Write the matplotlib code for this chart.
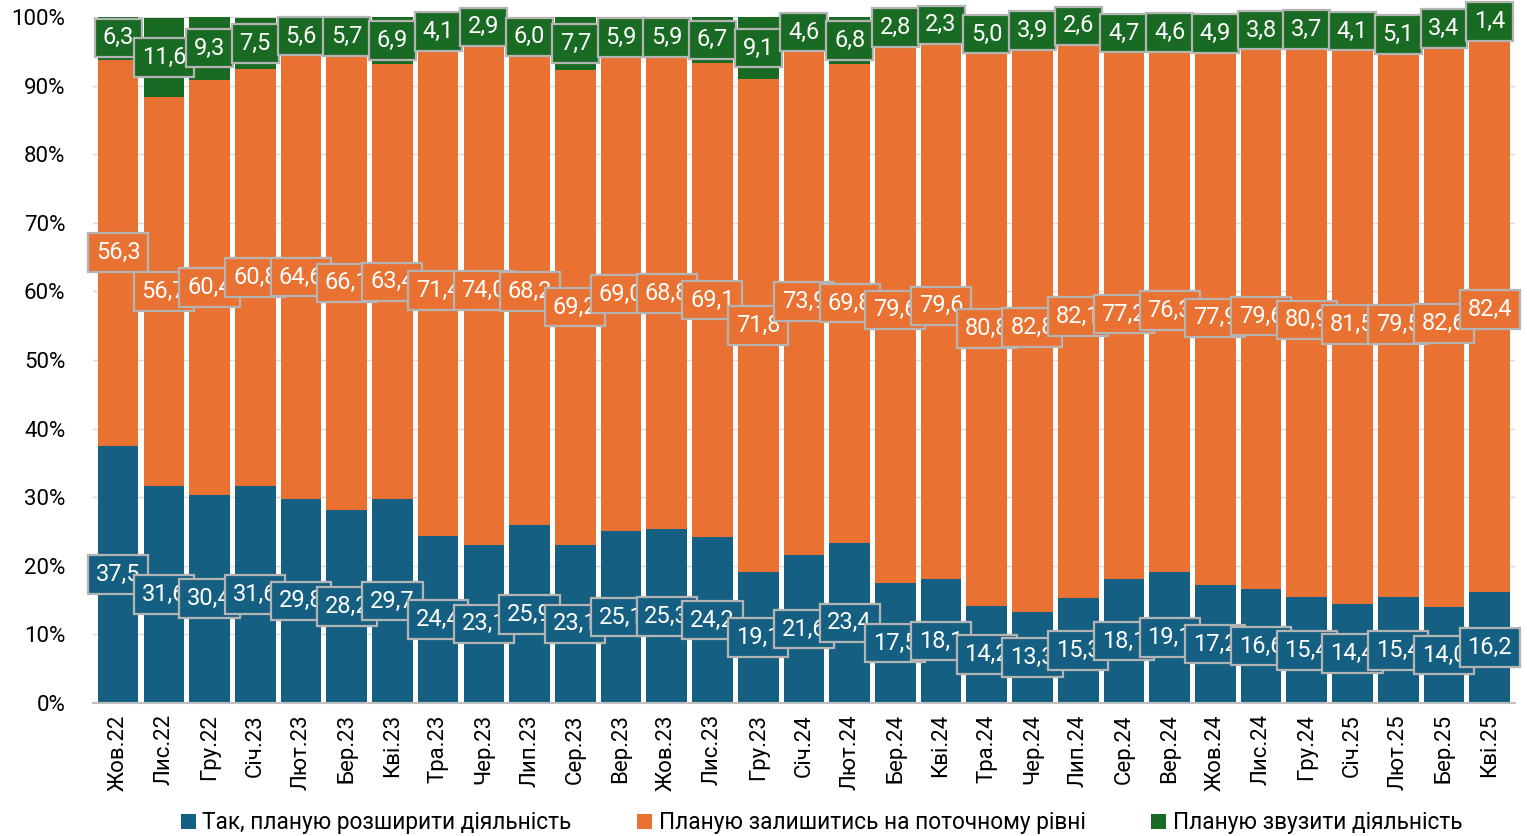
import matplotlib
matplotlib.use("Agg")
import matplotlib.pyplot as plt
from matplotlib import font_manager
import numpy as np

categories = ["Жов.22", "Лис.22", "Гру.22", "Січ.23", "Лют.23", "Бер.23", "Кві.23", "Тра.23",
              "Чер.23", "Лип.23", "Сер.23", "Вер.23", "Жов.23", "Лис.23", "Гру.23", "Січ.24",
              "Лют.24", "Бер.24", "Кві.24", "Тра.24", "Чер.24", "Лип.24", "Сер.24", "Вер.24",
              "Жов.24", "Лис.24", "Гру.24", "Січ.25", "Лют.25", "Бер.25", "Кві.25"]

expand = [37.5, 31.6, 30.4, 31.6, 29.8, 28.2, 29.7, 24.4, 23.1, 25.9, 23.1, 25.1, 25.3, 24.2, 19.1, 21.6,
          23.4, 17.5, 18.1, 14.2, 13.3, 15.3, 18.1, 19.1, 17.2, 16.6, 15.4, 14.4, 15.4, 14.0, 16.2]
stay = [56.3, 56.7, 60.4, 60.8, 64.6, 66.1, 63.4, 71.4, 74.0, 68.2, 69.2, 69.0, 68.8, 69.1, 71.8, 73.9,
        69.8, 79.6, 79.6, 80.8, 82.8, 82.1, 77.2, 76.3, 77.9, 79.6, 80.9, 81.5, 79.5, 82.6, 82.4]
reduce_ = [6.3, 11.6, 9.3, 7.5, 5.6, 5.7, 6.9, 4.1, 2.9, 6.0, 7.7, 5.9, 5.9, 6.7, 9.1, 4.6,
           6.8, 2.8, 2.3, 5.0, 3.9, 2.6, 4.7, 4.6, 4.9, 3.8, 3.7, 4.1, 5.1, 3.4, 1.4]

series_names = ["Так, планую розширити діяльність",
                "Планую залишитись на поточному рівні",
                "Планую звузити діяльність"]
colors = ["#156082", "#E97132", "#196B24"]
yticks = [0, 10, 20, 30, 40, 50, 60, 70, 80, 90, 100]

avail = {f.name for f in font_manager.fontManager.ttflist}
fam = "Liberation Sans Narrow" if "Liberation Sans Narrow" in avail else "Roboto"
plt.rcParams['font.family'] = [fam, "DejaVu Sans"]

fig = plt.figure(figsize=(15.27, 8.36), dpi=100)
ax = fig.add_axes([0.0609, 0.159, 0.9311, 0.8207])

x = np.arange(len(categories))
w = 0.89
data = [expand, stay, reduce_]
bottom = np.zeros(len(categories))
bars = []
for vals, c, name in zip(data, colors, series_names):
    vals = np.array(vals)
    ax.bar(x, vals, w, bottom=bottom, color=c, label=name, zorder=2, linewidth=0)
    bars.append((vals, bottom.copy(), c))
    bottom = bottom + vals

for vals, bot, c in bars:
    for i, (v, b0) in enumerate(zip(vals, bot)):
        ax.text(i, b0 + v / 2, f"{v:.1f}".replace(".", ","), ha="center", va="center",
                color="white", fontsize=17, zorder=5, clip_on=False,
                bbox=dict(boxstyle="square,pad=0.33", facecolor=c, edgecolor="#B4B4B4", linewidth=1.6))

ax.set_xlim(-0.55, len(categories) - 0.45)
ax.set_ylim(0, 100)
ax.set_yticks(yticks)
ax.set_yticklabels([f"{t}%" for t in yticks], fontsize=16)
ax.set_xticks(x)
ax.set_xticklabels(categories, rotation=90, fontsize=16)
ax.tick_params(length=0, pad=8)
ax.tick_params(axis="y", pad=20)
ax.grid(axis="y", color="#D9D9D9", linewidth=1, zorder=0)
ax.set_axisbelow(True)
for s in ["top", "right", "left"]:
    ax.spines[s].set_visible(False)
ax.spines["bottom"].set_color("#BFBFBF")
ax.spines["bottom"].set_linewidth(1.5)
ax.spines["bottom"].set_zorder(3)

leg = fig.legend(loc="lower center", bbox_to_anchor=(0.538, -0.022), ncol=3, frameon=False,
                 fontsize=16.3, handlelength=0.65, handleheight=0.65, handletextpad=0.3,
                 columnspacing=2.9)

fig.savefig("out.png", dpi=100)
